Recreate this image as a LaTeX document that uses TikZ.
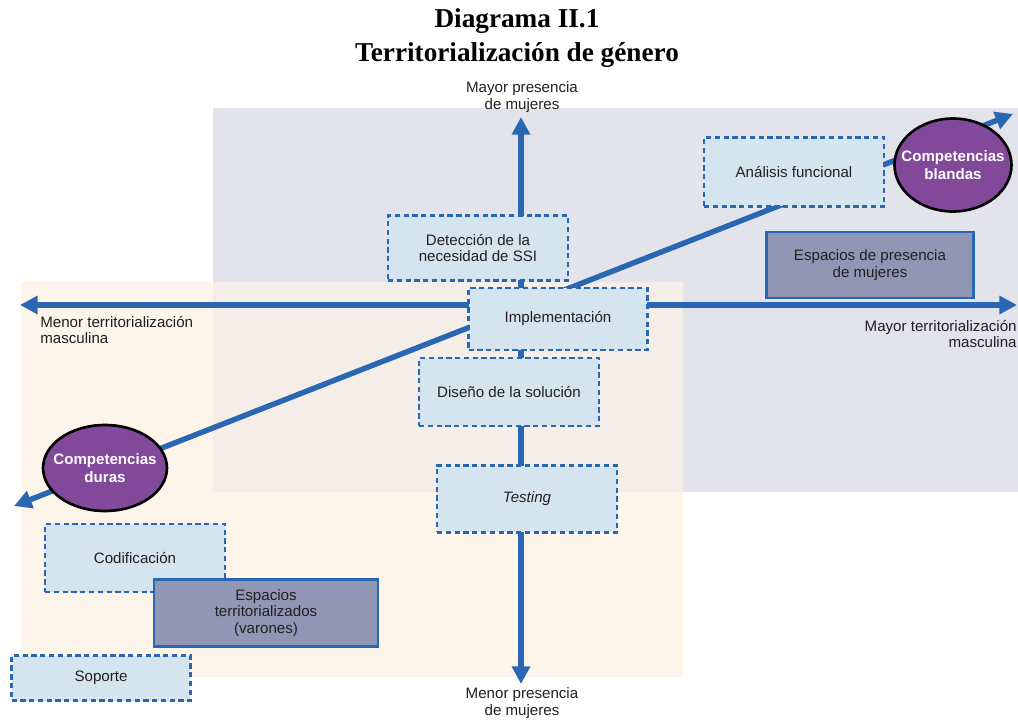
\documentclass[tikz,border=0pt]{standalone}
\usepackage{fontspec}
\setmainfont{Liberation Sans}
\newfontfamily\titlefont{Liberation Serif}
\usepackage{tikz}
\usetikzlibrary{arrows.meta,positioning,shapes.geometric}
\definecolor{axisblue}{RGB}{42,103,178}
\definecolor{boxfill}{RGB}{212,229,239}
\definecolor{spacefill}{RGB}{146,150,181}
\definecolor{skillfill}{RGB}{130,73,155}
\definecolor{grayzone}{RGB}{227,227,236}
\definecolor{peachzone}{RGB}{253,244,234}
\definecolor{mixzone}{RGB}{245,237,232}
\definecolor{inktext}{RGB}{35,31,32}

\begin{document}
\begin{tikzpicture} [
  x=0.02cm, y=-0.02cm,
  every node/.style= {font=\fontsize{8.6}{9.6}\selectfont, text=inktext},
  task box/.style= {draw=axisblue, fill=boxfill, line width=1.4pt, dash pattern=on 3pt off 2pt,
    align=center, minimum width=3.6cm, minimum height=1.34cm, inner sep=2pt},
  space box/.style= {draw=axisblue, fill=spacefill, line width=1.4pt, align=center, inner sep=2pt},
  skill node/.style= {ellipse, draw=black, fill=skillfill, line width=1.5pt, inner xsep=-12pt, inner ysep=0pt,
    align=center, text=white, font=\fontsize{8.6}{10}\selectfont\bfseries},
  axis arrow/.style= {draw=axisblue, line width=3.1pt,
    {Triangle[length=10pt,width=10pt]}-{Triangle[length=10pt,width=10pt]}},
  axis label/.style= {align=center, inner sep=0pt}
]
\useasboundingbox (0,0) rectangle (1018,720);
% zones
\fill[grayzone] (213,108) rectangle (1018,492);
\fill[peachzone] (21,282) rectangle (683,677);
\fill[mixzone] (213,282) rectangle (683,492);

% axis ends
\coordinate (north) at (521,117);
\coordinate (south) at (521,684);
\coordinate (west) at (20,305);
\coordinate (east) at (1017,305);
\coordinate (sw) at (14,506);
\coordinate (ne) at (1013,114);

\draw[axis arrow] (south) -- (north);
\draw[axis arrow] (west) -- (east);
\draw[axis arrow] (sw) -- (ne);

% title and axis labels
\node (title) [align=center, text=black, font=\titlefont\bfseries\fontsize{15.5}{19.3}\selectfont] at (517,38)
  {Diagrama II.1\\Territorialización de género};
\node (top label) [axis label] at (522,97) {Mayor presencia\\de mujeres};
\node (bottom label) [axis label] at (522,703) {Menor presencia\\de mujeres};
\node (left label) [axis label, align=left, anchor=west] at (40,330) {Menor territorialización\\masculina};
\node (right label) [axis label, align=right, anchor=east] at (1017,334) {Mayor territorialización\\masculina};

% tasks
\node (analisis) [task box, minimum height=1.38cm] at (794,172) {Análisis funcional};
\node (deteccion) [task box, minimum height=1.3cm] at (478,248) {Detección de la\\necesidad de SSI};
\node (implementacion) [task box, minimum width=3.58cm, minimum height=1.24cm] at (558,319) {Implementación};
\node (diseno) [task box, minimum height=1.36cm] at (509,392) {Diseño de la solución};
\node (testing) [task box] at (527,499) {\itshape Testing};
\node (codificacion) [task box, minimum height=1.36cm] at (135,558) {Codificación};
\node (soporte) [task box, minimum width=3.58cm, minimum height=0.9cm] at (101,678) {Soporte};

% spaces
\node (mujeres) [space box, minimum width=4.14cm, minimum height=1.32cm] at (870,265) {Espacios de presencia\\de mujeres};
\node (varones) [space box, minimum width=4.48cm, minimum height=1.34cm] at (266,613) {Espacios\\territorializados\\(varones)};

% skills
\node (blandas) [skill node, minimum width=2.34cm, minimum height=1.86cm] at (953,165) {Competencias\\blandas};
\node (duras) [skill node, minimum width=2.48cm, minimum height=1.72cm] at (105,468) {Competencias\\duras};
\end{tikzpicture}
\end{document}
